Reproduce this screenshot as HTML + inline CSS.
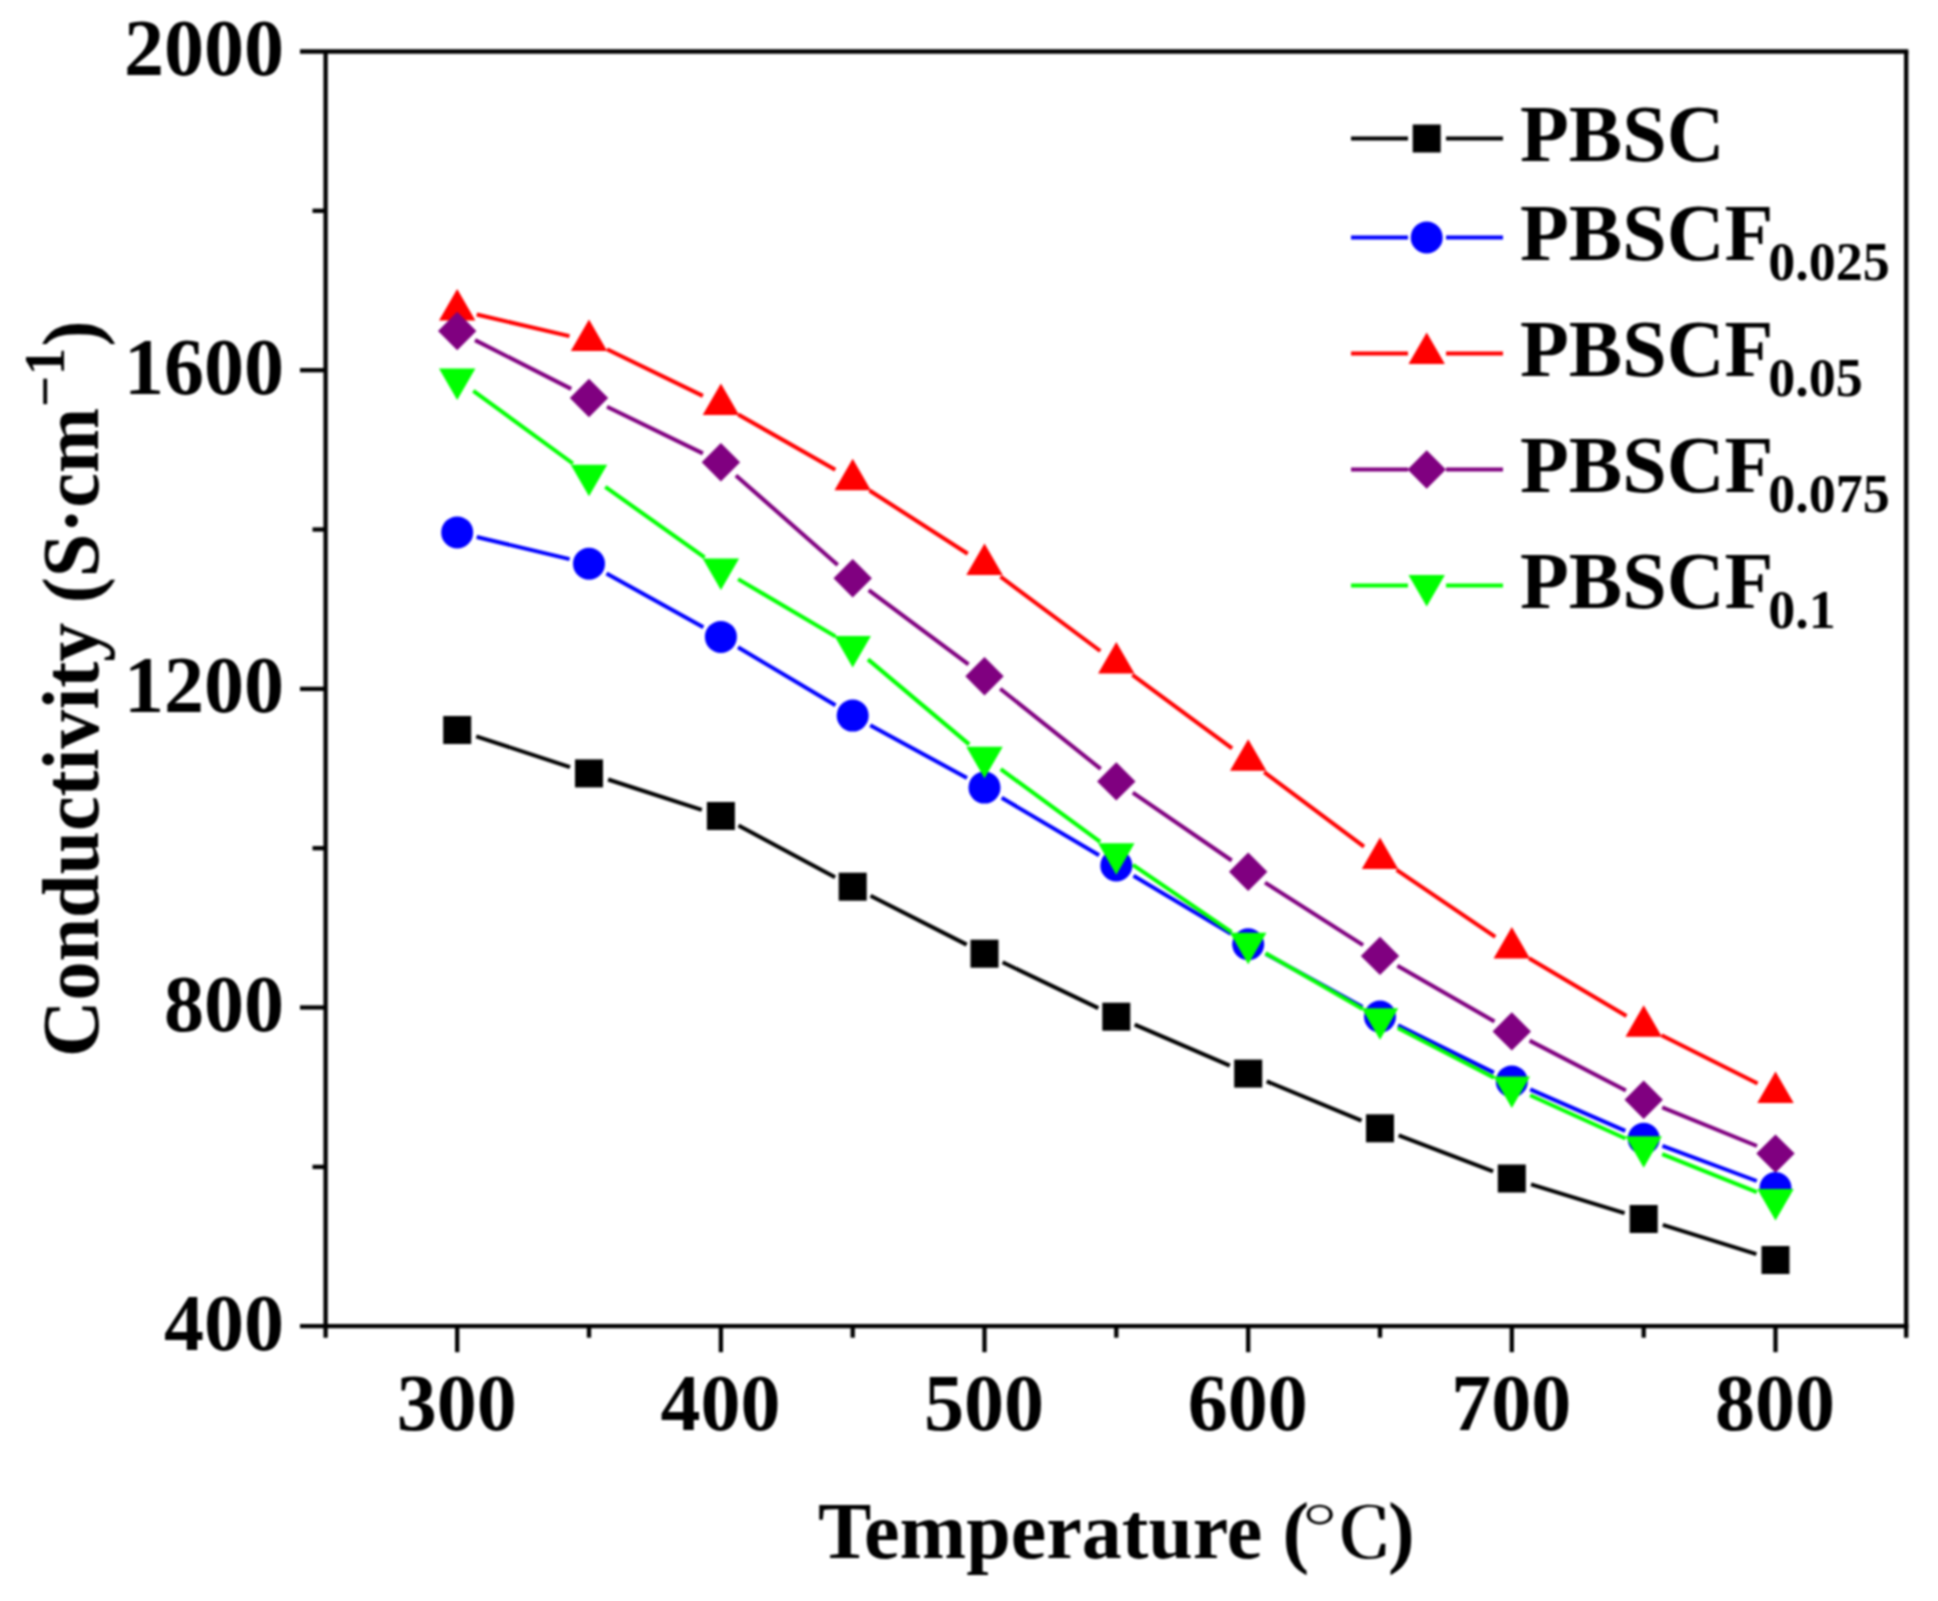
<!DOCTYPE html>
<html lang="en"><head><meta charset="utf-8"><title>Conductivity vs Temperature</title>
<style>html,body{margin:0;padding:0;background:#fff}body{width:1938px;height:1601px;overflow:hidden}svg{display:block;filter:blur(1px)}</style>
</head><body>
<svg width="1938" height="1601" viewBox="0 0 1938 1601">
<rect width="1938" height="1601" fill="#ffffff"/>
<g stroke="#000" stroke-width="4.3" fill="none" stroke-linecap="butt">
<line x1="300" y1="51.5" x2="1908.3500000000001" y2="51.5"/>
<line x1="300" y1="1326.2" x2="1908.3500000000001" y2="1326.2"/>
<line x1="325.6" y1="51.5" x2="325.6" y2="1337.7"/>
<line x1="1906.2" y1="51.5" x2="1906.2" y2="1337.7"/>
<line x1="312.5" y1="1166.9" x2="325.6" y2="1166.9"/>
<line x1="312.5" y1="848.2" x2="325.6" y2="848.2"/>
<line x1="312.5" y1="529.5" x2="325.6" y2="529.5"/>
<line x1="312.5" y1="210.8" x2="325.6" y2="210.8"/>
<line x1="300" y1="1007.5" x2="325.6" y2="1007.5"/>
<line x1="300" y1="688.9" x2="325.6" y2="688.9"/>
<line x1="300" y1="370.2" x2="325.6" y2="370.2"/>
<line x1="457.2" y1="1326.2" x2="457.2" y2="1352.2"/>
<line x1="720.9" y1="1326.2" x2="720.9" y2="1352.2"/>
<line x1="984.5" y1="1326.2" x2="984.5" y2="1352.2"/>
<line x1="1248.2" y1="1326.2" x2="1248.2" y2="1352.2"/>
<line x1="1511.8" y1="1326.2" x2="1511.8" y2="1352.2"/>
<line x1="1775.5" y1="1326.2" x2="1775.5" y2="1352.2"/>
<line x1="589.0" y1="1326.2" x2="589.0" y2="1337.7"/>
<line x1="852.7" y1="1326.2" x2="852.7" y2="1337.7"/>
<line x1="1116.3" y1="1326.2" x2="1116.3" y2="1337.7"/>
<line x1="1380.0" y1="1326.2" x2="1380.0" y2="1337.7"/>
<line x1="1643.7" y1="1326.2" x2="1643.7" y2="1337.7"/>
</g>
<g stroke="#000000" stroke-width="4.0">
<line x1="476.2" y1="736.3" x2="570.0" y2="767.1"/>
<line x1="608.1" y1="779.5" x2="701.8" y2="809.9"/>
<line x1="738.5" y1="825.5" x2="835.1" y2="877.2"/>
<line x1="870.5" y1="895.8" x2="966.7" y2="944.6"/>
<line x1="1002.6" y1="962.3" x2="1098.3" y2="1008.1"/>
<line x1="1134.7" y1="1024.6" x2="1229.8" y2="1065.7"/>
<line x1="1266.7" y1="1081.3" x2="1361.5" y2="1120.6"/>
<line x1="1398.7" y1="1135.4" x2="1493.1" y2="1171.4"/>
<line x1="1531.0" y1="1184.4" x2="1624.6" y2="1213.1"/>
<line x1="1662.8" y1="1224.9" x2="1756.4" y2="1254.1"/>
</g>
<g>
<rect x="443.2" y="716.0" width="28.0" height="28.0" fill="#000000"/>
<rect x="575.0" y="759.4" width="28.0" height="28.0" fill="#000000"/>
<rect x="706.9" y="802.0" width="28.0" height="28.0" fill="#000000"/>
<rect x="838.7" y="872.7" width="28.0" height="28.0" fill="#000000"/>
<rect x="970.5" y="939.7" width="28.0" height="28.0" fill="#000000"/>
<rect x="1102.3" y="1002.7" width="28.0" height="28.0" fill="#000000"/>
<rect x="1234.2" y="1059.6" width="28.0" height="28.0" fill="#000000"/>
<rect x="1366.0" y="1114.3" width="28.0" height="28.0" fill="#000000"/>
<rect x="1497.8" y="1164.5" width="28.0" height="28.0" fill="#000000"/>
<rect x="1629.7" y="1205.0" width="28.0" height="28.0" fill="#000000"/>
<rect x="1761.5" y="1246.0" width="28.0" height="28.0" fill="#000000"/>
</g>
<g stroke="#0000ff" stroke-width="4.0">
<line x1="476.7" y1="537.0" x2="569.6" y2="559.1"/>
<line x1="606.5" y1="573.4" x2="703.4" y2="627.2"/>
<line x1="738.0" y1="647.2" x2="835.5" y2="705.3"/>
<line x1="870.2" y1="725.2" x2="967.0" y2="778.0"/>
<line x1="1001.7" y1="797.8" x2="1099.1" y2="855.3"/>
<line x1="1133.5" y1="875.8" x2="1231.0" y2="933.9"/>
<line x1="1265.7" y1="953.8" x2="1362.5" y2="1007.0"/>
<line x1="1398.0" y1="1025.4" x2="1493.9" y2="1072.6"/>
<line x1="1530.2" y1="1089.4" x2="1625.3" y2="1130.8"/>
<line x1="1662.4" y1="1145.8" x2="1756.8" y2="1181.0"/>
</g>
<g>
<circle cx="457.2" cy="532.4" r="16" fill="#0000ff"/>
<circle cx="589.0" cy="563.7" r="16" fill="#0000ff"/>
<circle cx="720.9" cy="636.9" r="16" fill="#0000ff"/>
<circle cx="852.7" cy="715.6" r="16" fill="#0000ff"/>
<circle cx="984.5" cy="787.6" r="16" fill="#0000ff"/>
<circle cx="1116.3" cy="865.5" r="16" fill="#0000ff"/>
<circle cx="1248.2" cy="944.2" r="16" fill="#0000ff"/>
<circle cx="1380.0" cy="1016.6" r="16" fill="#0000ff"/>
<circle cx="1511.8" cy="1081.4" r="16" fill="#0000ff"/>
<circle cx="1643.7" cy="1138.8" r="16" fill="#0000ff"/>
<circle cx="1775.5" cy="1188.0" r="16" fill="#0000ff"/>
</g>
<g stroke="#ff0000" stroke-width="4.0">
<line x1="476.7" y1="314.5" x2="569.5" y2="336.1"/>
<line x1="607.0" y1="349.3" x2="702.9" y2="395.9"/>
<line x1="738.2" y1="414.5" x2="835.3" y2="469.8"/>
<line x1="869.5" y1="490.5" x2="967.7" y2="553.8"/>
<line x1="1000.5" y1="576.6" x2="1100.3" y2="651.0"/>
<line x1="1132.4" y1="674.9" x2="1232.1" y2="748.3"/>
<line x1="1264.2" y1="772.2" x2="1364.0" y2="846.6"/>
<line x1="1396.6" y1="869.8" x2="1495.3" y2="936.9"/>
<line x1="1529.0" y1="958.3" x2="1626.5" y2="1016.0"/>
<line x1="1661.5" y1="1035.2" x2="1757.6" y2="1083.5"/>
</g>
<g>
<polygon points="457.2,289.0 475.4,320.5 439.0,320.5" fill="#ff0000"/>
<polygon points="589.0,319.6 607.2,351.1 570.8,351.1" fill="#ff0000"/>
<polygon points="720.9,383.6 739.1,415.1 702.7,415.1" fill="#ff0000"/>
<polygon points="852.7,458.7 870.9,490.2 834.5,490.2" fill="#ff0000"/>
<polygon points="984.5,543.6 1002.7,575.1 966.3,575.1" fill="#ff0000"/>
<polygon points="1116.3,642.0 1134.5,673.5 1098.1,673.5" fill="#ff0000"/>
<polygon points="1248.2,739.2 1266.4,770.7 1230.0,770.7" fill="#ff0000"/>
<polygon points="1380.0,837.6 1398.2,869.1 1361.8,869.1" fill="#ff0000"/>
<polygon points="1511.8,927.1 1530.0,958.6 1493.6,958.6" fill="#ff0000"/>
<polygon points="1643.7,1005.2 1661.9,1036.7 1625.5,1036.7" fill="#ff0000"/>
<polygon points="1775.5,1071.5 1793.7,1103.0 1757.3,1103.0" fill="#ff0000"/>
</g>
<g stroke="#800080" stroke-width="4.0">
<line x1="475.0" y1="340.1" x2="571.2" y2="388.9"/>
<line x1="607.0" y1="406.8" x2="702.9" y2="453.4"/>
<line x1="735.9" y1="475.4" x2="837.7" y2="565.0"/>
<line x1="868.7" y1="590.1" x2="968.5" y2="664.3"/>
<line x1="1000.2" y1="688.7" x2="1100.7" y2="768.9"/>
<line x1="1132.8" y1="792.7" x2="1231.7" y2="860.5"/>
<line x1="1265.0" y1="882.6" x2="1363.1" y2="945.1"/>
<line x1="1397.4" y1="965.8" x2="1494.5" y2="1021.5"/>
<line x1="1529.6" y1="1040.6" x2="1625.9" y2="1090.5"/>
<line x1="1662.2" y1="1107.3" x2="1757.0" y2="1146.0"/>
</g>
<g>
<polygon points="457.2,311.8 476.4,331.0 457.2,350.2 438.0,331.0" fill="#800080"/>
<polygon points="589.0,378.8 608.2,398.0 589.0,417.2 569.8,398.0" fill="#800080"/>
<polygon points="720.9,443.0 740.1,462.2 720.9,481.4 701.7,462.2" fill="#800080"/>
<polygon points="852.7,559.0 871.9,578.2 852.7,597.4 833.5,578.2" fill="#800080"/>
<polygon points="984.5,657.0 1003.7,676.2 984.5,695.4 965.3,676.2" fill="#800080"/>
<polygon points="1116.3,762.2 1135.5,781.4 1116.3,800.6 1097.1,781.4" fill="#800080"/>
<polygon points="1248.2,852.6 1267.4,871.8 1248.2,891.0 1229.0,871.8" fill="#800080"/>
<polygon points="1380.0,936.7 1399.2,955.9 1380.0,975.1 1360.8,955.9" fill="#800080"/>
<polygon points="1511.8,1012.2 1531.0,1031.4 1511.8,1050.6 1492.6,1031.4" fill="#800080"/>
<polygon points="1643.7,1080.5 1662.9,1099.7 1643.7,1118.9 1624.5,1099.7" fill="#800080"/>
<polygon points="1775.5,1134.4 1794.7,1153.6 1775.5,1172.8 1756.3,1153.6" fill="#800080"/>
</g>
<g stroke="#00ff00" stroke-width="4.0">
<line x1="473.3" y1="390.8" x2="572.9" y2="463.5"/>
<line x1="605.3" y1="486.9" x2="704.6" y2="557.4"/>
<line x1="738.1" y1="579.1" x2="835.4" y2="636.4"/>
<line x1="868.0" y1="659.4" x2="969.2" y2="744.4"/>
<line x1="1000.7" y1="769.1" x2="1100.2" y2="841.9"/>
<line x1="1132.9" y1="864.9" x2="1231.6" y2="932.1"/>
<line x1="1265.5" y1="953.2" x2="1362.7" y2="1008.9"/>
<line x1="1397.8" y1="1028.0" x2="1494.1" y2="1077.8"/>
<line x1="1530.1" y1="1095.3" x2="1625.5" y2="1138.5"/>
<line x1="1662.2" y1="1154.2" x2="1756.9" y2="1192.2"/>
</g>
<g>
<polygon points="457.2,400.0 475.4,368.5 439.0,368.5" fill="#00ff00"/>
<polygon points="589.0,496.3 607.2,464.8 570.8,464.8" fill="#00ff00"/>
<polygon points="720.9,590.0 739.1,558.5 702.7,558.5" fill="#00ff00"/>
<polygon points="852.7,667.5 870.9,636.0 834.5,636.0" fill="#00ff00"/>
<polygon points="984.5,778.3 1002.7,746.8 966.3,746.8" fill="#00ff00"/>
<polygon points="1116.3,874.7 1134.5,843.2 1098.1,843.2" fill="#00ff00"/>
<polygon points="1248.2,964.3 1266.4,932.8 1230.0,932.8" fill="#00ff00"/>
<polygon points="1380.0,1039.8 1398.2,1008.3 1361.8,1008.3" fill="#00ff00"/>
<polygon points="1511.8,1108.0 1530.0,1076.5 1493.6,1076.5" fill="#00ff00"/>
<polygon points="1643.7,1167.8 1661.9,1136.3 1625.5,1136.3" fill="#00ff00"/>
<polygon points="1775.5,1220.6 1793.7,1189.1 1757.3,1189.1" fill="#00ff00"/>
</g>
<g font-family="'Liberation Serif', serif" font-weight="bold" fill="#000">
<line x1="1351" y1="138.5" x2="1408" y2="138.5" stroke="#000000" stroke-width="4.0"/>
<line x1="1446" y1="138.5" x2="1503" y2="138.5" stroke="#000000" stroke-width="4.0"/>
<rect x="1412.7" y="124.5" width="28.0" height="28.0" fill="#000000"/>
<text x="1520" y="161.2" font-size="80">PBSC</text>
<line x1="1351" y1="237.5" x2="1408" y2="237.5" stroke="#0000ff" stroke-width="4.0"/>
<line x1="1446" y1="237.5" x2="1503" y2="237.5" stroke="#0000ff" stroke-width="4.0"/>
<circle cx="1426.7" cy="237.5" r="16" fill="#0000ff"/>
<text x="1520" y="260.2" font-size="80">PBSCF<tspan font-size="54" dy="20" dx="-5">0.025</tspan></text>
<line x1="1351" y1="353.5" x2="1408" y2="353.5" stroke="#ff0000" stroke-width="4.0"/>
<line x1="1446" y1="353.5" x2="1503" y2="353.5" stroke="#ff0000" stroke-width="4.0"/>
<polygon points="1426.7,332.5 1444.9,364.0 1408.5,364.0" fill="#ff0000"/>
<text x="1520" y="376.2" font-size="80">PBSCF<tspan font-size="54" dy="20" dx="-5">0.05</tspan></text>
<line x1="1351" y1="469.5" x2="1408" y2="469.5" stroke="#800080" stroke-width="4.0"/>
<line x1="1446" y1="469.5" x2="1503" y2="469.5" stroke="#800080" stroke-width="4.0"/>
<polygon points="1426.7,450.3 1445.9,469.5 1426.7,488.7 1407.5,469.5" fill="#800080"/>
<text x="1520" y="492.2" font-size="80">PBSCF<tspan font-size="54" dy="20" dx="-5">0.075</tspan></text>
<line x1="1351" y1="585.5" x2="1408" y2="585.5" stroke="#00ff00" stroke-width="4.0"/>
<line x1="1446" y1="585.5" x2="1503" y2="585.5" stroke="#00ff00" stroke-width="4.0"/>
<polygon points="1426.7,606.5 1444.9,575.0 1408.5,575.0" fill="#00ff00"/>
<text x="1520" y="608.2" font-size="80">PBSCF<tspan font-size="54" dy="20" dx="-5">0.1</tspan></text>
<text x="284" y="1349.7" font-size="80" text-anchor="end">400</text>
<text x="284" y="1031.0" font-size="80" text-anchor="end">800</text>
<text x="284" y="712.4" font-size="80" text-anchor="end">1200</text>
<text x="284" y="393.7" font-size="80" text-anchor="end">1600</text>
<text x="284" y="75.0" font-size="80" text-anchor="end">2000</text>
<text x="456.7" y="1430" font-size="80" text-anchor="middle">300</text>
<text x="720.4" y="1430" font-size="80" text-anchor="middle">400</text>
<text x="984.0" y="1430" font-size="80" text-anchor="middle">500</text>
<text x="1247.7" y="1430" font-size="80" text-anchor="middle">600</text>
<text x="1511.3" y="1430" font-size="80" text-anchor="middle">700</text>
<text x="1775.0" y="1430" font-size="80" text-anchor="middle">800</text>
<text x="818" y="1558" font-size="80" id="xl">Temperature (<tspan x="1300" font-size="69" font-weight="500" textLength="94" lengthAdjust="spacingAndGlyphs" font-family="'Liberation Serif', 'Noto Serif CJK SC', serif">℃</tspan><tspan x="1388">)</tspan></text>
<text transform="translate(97.5 1057) rotate(-90) scale(0.977 1)" font-size="80" id="yl">Conductivity (S·cm<tspan font-size="56" dy="-34" dx="1">−</tspan><tspan font-size="56" dx="0.5">1</tspan><tspan dy="34" dx="1.5">)</tspan></text>
</g>
</svg>
</body></html>
